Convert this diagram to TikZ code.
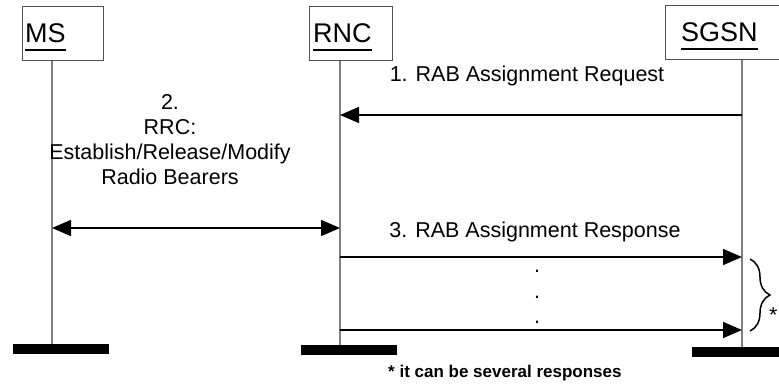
\documentclass[tikz,border=0pt]{standalone}
\usepackage{fontspec}
\setmainfont{Liberation Sans}
\usetikzlibrary{positioning, arrows.meta, decorations.pathreplacing}
\definecolor{lifegray}{HTML}{808080}
\definecolor{boxgray}{HTML}{505050}

\begin{document}
\begin{tikzpicture}[x=1pt, y=-1pt,
  entity/.style={draw=boxgray, line width=1pt, minimum height=54pt, inner sep=0pt},
  tag/.style={font=\fontsize{27}{30}\selectfont, inner sep=0pt},
  uline/.style={line width=2pt},
  life/.style={draw=lifegray, line width=1.5pt},
  bar/.style={fill=black, minimum height=10pt, inner sep=0pt},
  msg/.style={-{Triangle[length=19pt, width=16pt]}, line width=1.5pt},
  dmsg/.style={{Triangle[length=19pt, width=16pt]}-{Triangle[length=19pt, width=16pt]}, line width=1.5pt},
  note/.style={font=\fontsize{21.5}{25}\selectfont, inner sep=0pt},
  foot/.style={font=\fontsize{17}{20}\selectfont\bfseries, inner sep=0pt}]
  \useasboundingbox (0,0) rectangle (779,389);
  % entities
  \node[entity, minimum width=81pt] (ms) at (62.5,33) {};
  \node[entity, minimum width=83pt] (rnc) at (350.5,33) {};
  \node[entity, minimum width=174pt] (sgsn) at (752,32) {};
  \node[tag, anchor=base west] (mstag) at (25,42) {MS};
  \node[tag, anchor=base west] (rnctag) at (313,42) {RNC};
  \node[tag, anchor=base west] (sgsntag) at (681,41) {SGSN};
  \foreach \t in {mstag, rnctag, sgsntag}
    \draw[uline] ([yshift=-8pt]\t.base west) -- ([yshift=-8pt]\t.base east);
  % lifeline positions
  \coordinate (msx) at (52,0);
  \coordinate (rncx) at (340,0);
  \coordinate (sgsnx) at (742,0);
  % bars
  \node[bar, minimum width=96pt] (msbar) at (61,349) {};
  \node[bar, minimum width=96pt] (rncbar) at (349,350) {};
  \node[bar, minimum width=100pt] (sgsnbar) at (742,352) {};
  % lifelines
  \draw[life] (ms.south -| msx) -- (msbar.north -| msx);
  \draw[life] (rnc.south -| rncx) -- (rncbar.north -| rncx);
  \draw[life] (sgsn.south -| sgsnx) -- (sgsnbar.north -| sgsnx);
  % message ends
  \coordinate (m1s) at (742,115);
  \coordinate (m1r) at (340,115);
  \coordinate (m2m) at (52,228);
  \coordinate (m2r) at (340,228);
  \coordinate (m3r) at (340,257);
  \coordinate (m3s) at (742,257);
  \coordinate (m4r) at (340,330);
  \coordinate (m4s) at (742,330);
  % messages
  \draw[msg] (m1s) -- (m1r);
  \draw[dmsg] (m2m) -- (m2r);
  \draw[msg] (m3r) -- (m3s);
  \draw[msg] (m4r) -- (m4s);
  % labels
  \node[note, anchor=base] (t1) at (527,81) {1. RAB Assignment Request};
  \node[note, anchor=north, align=center] (t2) at (170,94.5)
    {2.\\RRC:\\Establish/Release/Modify\\Radio Bearers};
  \node[note, anchor=base] (t3) at (535,237) {3. RAB Assignment Response};
  \foreach \y/\n in {272/1, 298/2, 323/3}
    \node[note, anchor=base] (dot\n) at (537,\y) {.};
  % brace for several responses
  \draw[line width=1.5pt, decorate, decoration={brace, amplitude=20pt}]
    (750,259) -- (750,331);
  \node[note, anchor=base west] (star) at (769,322) {*};
  \node[foot, anchor=base west] (fn) at (388,377) {* it can be several responses};
\end{tikzpicture}
\end{document}
